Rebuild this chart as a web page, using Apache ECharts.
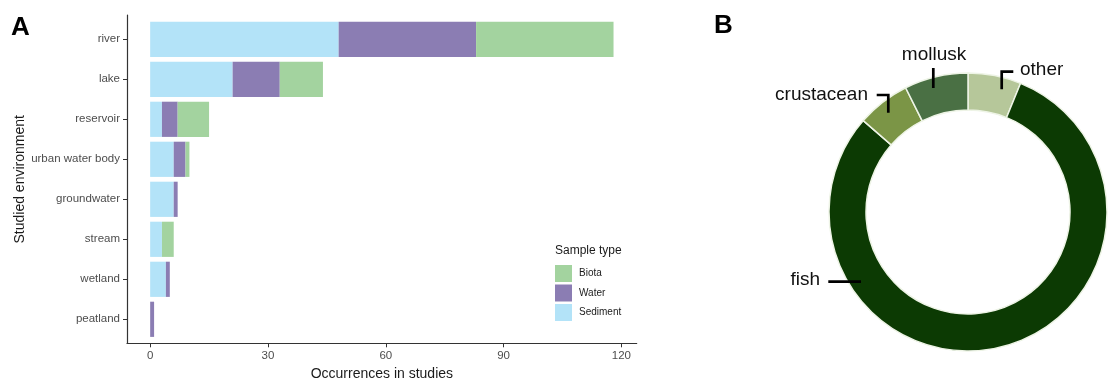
<!DOCTYPE html>
<html>
<head>
<meta charset="utf-8">
<script src="https://cdn.jsdelivr.net/npm/echarts@6/dist/echarts.min.js"></script>
<style>
html,body{margin:0;padding:0;background:#fff;}
#c{width:1108px;height:379px;}
</style>
</head>
<body>
<div id="c"></div>
<script>
// ---- Data (panel A) ----
const environments = ['river','lake','reservoir','urban water body','groundwater','stream','wetland','peatland'];
const sediment = [48, 21, 3, 6, 6, 3, 4, 0];
const water    = [35, 12, 4, 3, 1, 0, 1, 1];
const biota    = [35, 11, 8, 1, 0, 3, 0, 0];
const xTicks   = [0, 30, 60, 90, 120];
// ---- Data (panel B) ----
const taxa   = ['other', 'fish', 'crustacean', 'mollusk'];
const counts = [5, 65, 5, 6];

const FONT = '"Liberation Sans", Arial, sans-serif';
const chart = echarts.init(document.getElementById('c'), null, {renderer: 'canvas'});

const pieColors = {other: '#b6c79a', fish: '#0c3a03', crustacean: '#7b9546', mollusk: '#4a7044'};
// label placement for the donut (style, not data)
const pieCx = 968, pieCy = 212;
const labelPlace = {
  other:      {pts: [[1001.7, 89.3], [1001.7, 71.7], [1013.3, 71.7]], x: 1020, y: 70, align: 'left'},
  mollusk:    {pts: [[933.3, 88], [933.3, 68], [933.3, 68]], x: 934, y: 54.5, align: 'center'},
  crustacean: {pts: [[888.3, 112.7], [888.3, 95], [876.7, 95]], x: 868, y: 95, align: 'right'},
  fish:       {pts: [[861, 281.7], [844.6, 281.7], [828.3, 281.7]], x: 820, y: 280, align: 'right'}
};

const gridLeft = 127, gridWidth = 509.7;
const xMin = -5.9, xMax = 123.9;
const pieData = () => taxa.map((t, i) => ({name: t, value: counts[i]}));

const option = {
  animation: false,
  textStyle: {fontFamily: FONT},
  graphic: [
    {type: 'text', left: 11, top: 15, style: {text: 'A', font: 'bold 26px ' + FONT, fill: '#000'}},
    {type: 'text', left: 714, top: 13, style: {text: 'B', font: 'bold 26px ' + FONT, fill: '#000'}},
    {type: 'text', left: 555, top: 245, style: {text: 'Sample type', font: '12px ' + FONT, fill: '#1a1a1a'}}
  ],
  legend: {
    orient: 'vertical',
    left: 555, top: 265,
    padding: 0,
    itemWidth: 17, itemHeight: 17, itemGap: 2.5,
    icon: 'rect',
    data: ['Biota', 'Water', 'Sediment'],
    textStyle: {fontSize: 10, color: '#1a1a1a', fontFamily: FONT, padding: [0, 0, 0, 2]}
  },
  grid: [
    {left: gridLeft, top: 19.3, width: gridWidth, height: 320, containLabel: false, outerBoundsMode: 'none'},
    {left: gridLeft, top: 15, width: gridWidth, height: 328.3, containLabel: false, outerBoundsMode: 'none'}
  ],
  xAxis: [
    {gridIndex: 0, type: 'value', min: xMin, max: xMax, show: false},
    {
      gridIndex: 1, type: 'value', min: xMin, max: xMax, position: 'bottom',
      axisLine: {show: true, onZero: false, lineStyle: {color: '#333', width: 1.2}},
      axisTick: {show: true, length: 4, customValues: xTicks, lineStyle: {color: '#333', width: 1}},
      axisLabel: {customValues: xTicks, color: '#4d4d4d', fontSize: 11.5, margin: 6.5, fontFamily: FONT},
      splitLine: {show: false},
      name: 'Occurrences in studies', nameLocation: 'middle', nameGap: 17,
      nameTextStyle: {fontSize: 14, color: '#1a1a1a', fontFamily: FONT}
    }
  ],
  yAxis: [
    {
      gridIndex: 0, type: 'category', data: environments, inverse: true, position: 'left',
      axisLine: {show: false, onZero: false},
      axisTick: {show: true, alignWithLabel: true, length: 4, lineStyle: {color: '#333', width: 1}},
      axisLabel: {color: '#4d4d4d', fontSize: 11.5, margin: 7, fontFamily: FONT},
      name: 'Studied environment', nameLocation: 'middle', nameRotate: 90, nameGap: 99,
      nameTextStyle: {fontSize: 14, color: '#1a1a1a', fontFamily: FONT}
    },
    {
      gridIndex: 1, type: 'value', min: 0, max: 1, position: 'left',
      axisLine: {show: true, onZero: false, lineStyle: {color: '#333', width: 1.2}},
      axisTick: {show: false}, axisLabel: {show: false}, splitLine: {show: false}
    }
  ],
  series: [
    {name: 'Sediment', type: 'bar', stack: 'env', xAxisIndex: 0, yAxisIndex: 0, barWidth: '88%',
     itemStyle: {color: '#b3e3f8'}, data: sediment},
    {name: 'Water', type: 'bar', stack: 'env', xAxisIndex: 0, yAxisIndex: 0, barWidth: '88%',
     itemStyle: {color: '#8b7db3'}, data: water},
    {name: 'Biota', type: 'bar', stack: 'env', xAxisIndex: 0, yAxisIndex: 0, barWidth: '88%',
     itemStyle: {color: '#a3d39f'}, data: biota},
    {
      name: 'taxa', type: 'pie', center: [pieCx, pieCy], radius: [102, 139], z: 2,
      startAngle: 90, clockwise: true,
      itemStyle: {borderColor: '#eef4e6', borderWidth: 1.5},
      label: {show: false}, labelLine: {show: false},
      data: taxa.map((t, i) => ({name: t, value: counts[i], itemStyle: {color: pieColors[t]}}))
    },
    {
      name: 'taxaLabels', type: 'pie', center: [pieCx, pieCy], radius: [102, 139], z: 5,
      startAngle: 90, clockwise: true, avoidLabelOverlap: false, silent: true,
      itemStyle: {color: 'rgba(0,0,0,0)', borderWidth: 0},
      label: {show: true, position: 'outside', fontSize: 19, color: '#111', fontFamily: FONT, formatter: '{b}'},
      labelLine: {show: true, lineStyle: {color: '#000', width: 2.7}},
      labelLayout: function (p) {
        const s = labelPlace[taxa[p.dataIndex]];
        return {x: s.x, y: s.y, align: s.align, verticalAlign: 'middle', labelLinePoints: s.pts};
      },
      data: pieData()
    }
  ]
};
chart.setOption(option);
</script>
</body>
</html>
